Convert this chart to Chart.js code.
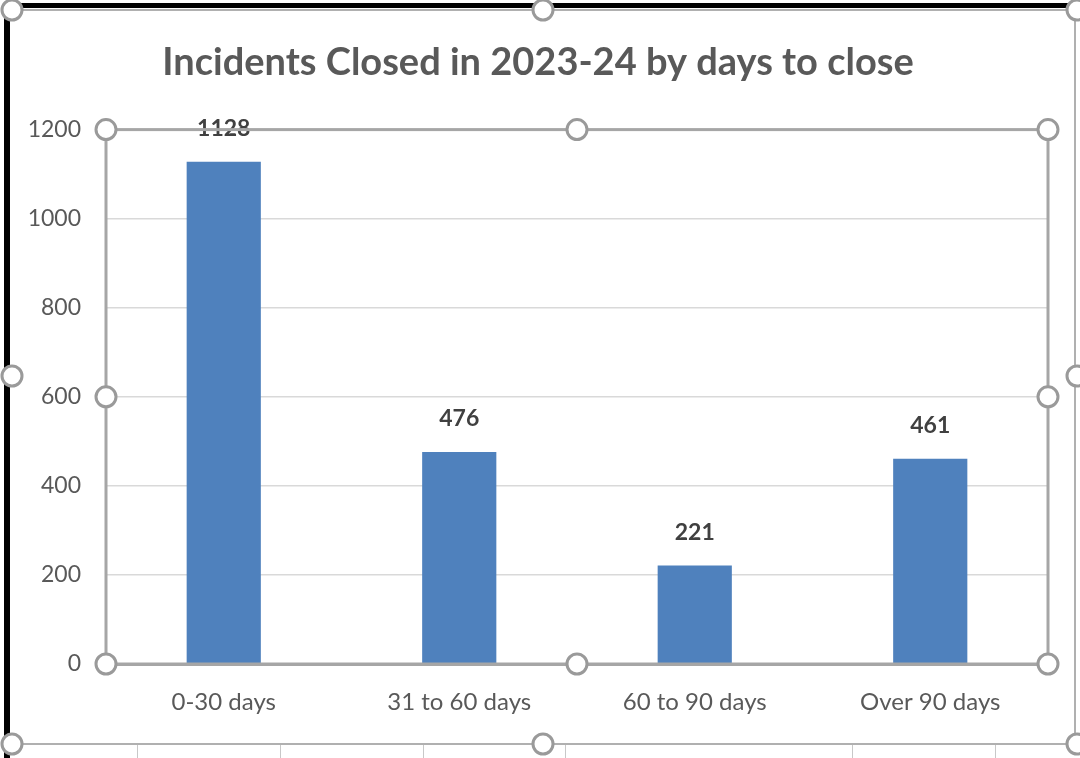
<!DOCTYPE html>
<html>
<head>
<meta charset="utf-8">
<script src="https://cdn.jsdelivr.net/npm/chart.js@4"></script>
<style>
  html, body { margin: 0; padding: 0; background: #ffffff; }
  #wrap { width: 1080px; height: 758px; }
</style>
</head>
<body>
<div id="wrap"><canvas id="incidents-chart" width="1080" height="758"></canvas></div>
<script>
// Incidents closed by days to close
const titleText = 'Incidents Closed in 2023-24 by days to close';
const categories = ['0-30 days', '31 to 60 days', '60 to 90 days', 'Over 90 days'];
const incidents = [1128, 476, 221, 461];
const yTicks = [0, 200, 400, 600, 800, 1000, 1200];

const FONT = 'Lato, "Open Sans", sans-serif';
const GREY_TEXT = '#595959';

// Etiquetas de valor encima de cada barra
const valueLabels = {
    id: 'valueLabels',
    afterDatasetsDraw(chart) {
        const ctx = chart.ctx;
        const meta = chart.getDatasetMeta(0);
        ctx.save();
        ctx.font = 'bold 23px ' + FONT;
        ctx.fillStyle = '#404040';
        ctx.textAlign = 'center';
        ctx.textBaseline = 'middle';
        meta.data.forEach((bar, i) => {
            ctx.fillText(String(incidents[i]), bar.x, bar.y - 33);
        });
        ctx.restore();
    }
};

// Marco de selección estilo Excel (bordes y asas)
const selectionFrame = {
    id: 'selectionFrame',
    afterDraw(chart) {
        const ctx = chart.ctx;
        const a = chart.chartArea;
        const W = chart.width, H = chart.height;
        ctx.save();

        // borde exterior gris claro del gráfico
        ctx.strokeStyle = '#b0b0b0';
        ctx.lineWidth = 2;
        ctx.beginPath();
        ctx.moveTo(12, 10); ctx.lineTo(1075, 10);
        ctx.moveTo(1075, 10); ctx.lineTo(1075, 744);
        ctx.moveTo(12, 744); ctx.lineTo(1080, 744);
        ctx.stroke();

        // líneas de celdas debajo
        ctx.strokeStyle = '#c8c8c8';
        ctx.lineWidth = 1;
        [137, 280, 423, 565, 852, 995].forEach(x => {
            ctx.beginPath();
            ctx.moveTo(x + 0.5, 745); ctx.lineTo(x + 0.5, H);
            ctx.stroke();
        });

        // borde negro del recorte
        ctx.fillStyle = '#000000';
        ctx.fillRect(4, 3, W - 4, 5);
        ctx.fillRect(4, 3, 6, H - 3);

        // borde del área de trazado
        ctx.strokeStyle = '#a6a6a6';
        ctx.lineWidth = 3;
        ctx.strokeRect(a.left, a.top, a.right - a.left, a.bottom - a.top);

        const handle = (x, y) => {
            ctx.beginPath();
            ctx.arc(x, y, 10, 0, Math.PI * 2);
            ctx.fillStyle = '#ffffff';
            ctx.fill();
            ctx.strokeStyle = '#9a9a9a';
            ctx.lineWidth = 3;
            ctx.stroke();
        };
        const midX = (a.left + a.right) / 2;
        const midY = (a.top + a.bottom) / 2;
        [[a.left, a.top], [midX, a.top], [a.right, a.top],
         [a.left, midY], [a.right, midY],
         [a.left, a.bottom], [midX, a.bottom], [a.right, a.bottom]].forEach(p => handle(p[0], p[1]));

        // asas del gráfico completo
        [[12, 10], [543, 10], [1077, 10], [12, 376], [1077, 376],
         [12, 744], [543, 744], [1077, 744]].forEach(p => handle(p[0], p[1]));

        ctx.restore();
    }
};

const ctx = document.getElementById('incidents-chart');
new Chart(ctx, {
    type: 'bar',
    data: {
        labels: categories,
        datasets: [{
            label: 'Incidents',
            data: incidents,
            backgroundColor: '#4f81bd',
            borderWidth: 0,
            barPercentage: 0.63,
            categoryPercentage: 0.5
        }]
    },
    options: {
        responsive: false,
        animation: false,
        layout: { padding: { top: 0, right: 32, bottom: 0, left: 28 } },
        plugins: {
            legend: { display: false },
            tooltip: { enabled: false },
            title: {
                display: true,
                text: titleText,
                color: GREY_TEXT,
                font: { family: FONT, size: 38, weight: 'bold', lineHeight: 1.2 },
                padding: { top: 40, bottom: 44 }
            }
        },
        scales: {
            x: {
                grid: { display: false, drawTicks: false },
                border: { display: true, color: '#a6a6a6', width: 3 },
                ticks: {
                    color: GREY_TEXT,
                    font: { family: FONT, size: 24 },
                    padding: 24,
                    maxRotation: 0
                },
                afterFit(scale) { scale.height = 94; }
            },
            y: {
                min: 0,
                max: 1200,
                afterBuildTicks(scale) {
                    scale.ticks = yTicks.map(v => ({ value: v }));
                },
                grid: { color: '#d9d9d9', lineWidth: 1.5, drawTicks: false },
                border: { display: false },
                ticks: {
                    color: GREY_TEXT,
                    font: { family: FONT, size: 23 },
                    padding: 25,
                    callback: (v) => String(v)
                },
                afterFit(scale) { scale.width = 78; }
            }
        }
    },
    plugins: [valueLabels, selectionFrame]
});
</script>
</body>
</html>
